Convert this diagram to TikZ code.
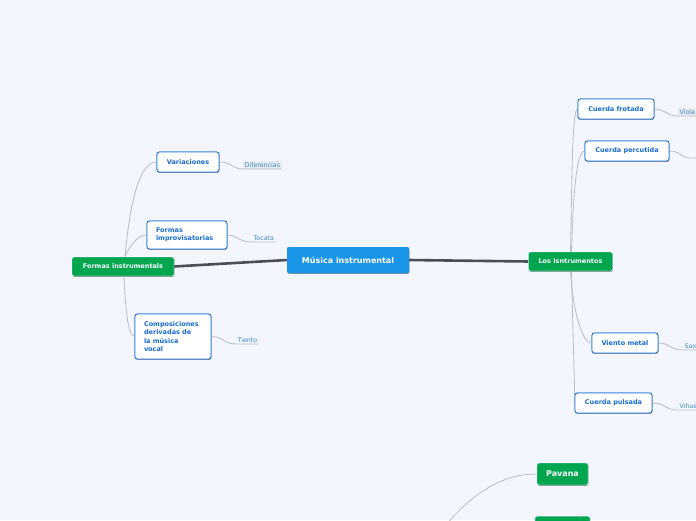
\documentclass[tikz,border=0pt]{standalone}
\usepackage{fontspec}
\setmainfont{DejaVu Sans}
\usetikzlibrary{shadows}
\definecolor{bgc}{RGB}{243,246,254}
\definecolor{mainblue}{RGB}{26,150,232}
\definecolor{mgreen}{RGB}{0,165,80}
\definecolor{bord}{RGB}{43,124,217}
\definecolor{btext}{RGB}{22,108,208}
\definecolor{ltext}{RGB}{60,140,205}
\definecolor{gline}{RGB}{184,188,196}
\definecolor{dline}{RGB}{74,78,87}
\definecolor{leafbg}{RGB}{232,234,238}
\tikzset{
  shad/.style={drop shadow={shadow xshift=0.4pt,shadow yshift=-0.9pt,opacity=0.22,fill=black}},
  mainbox/.style={fill=mainblue,rounded corners=2pt,text=white,font=\bfseries\fontsize{8}{9}\selectfont,inner sep=0pt,shad},
  greenbox/.style={fill=mgreen,draw=white,line width=0.4pt,rounded corners=2pt,text=white,font=\bfseries\fontsize{6.5}{8}\selectfont,inner sep=0pt,shad},
  bigreen/.style={greenbox,font=\bfseries\fontsize{8}{9}\selectfont},
  childbox/.style={fill=white,draw=bord,line width=0.9pt,rounded corners=2.5pt,text=btext,font=\bfseries\fontsize{6.5}{8.5}\selectfont,inner sep=0pt,shad},
  leaf/.style={text=ltext,font=\fontsize{6.3}{7.5}\selectfont,inner sep=1.5pt,anchor=south west},
  leafshade/.style={leaf,fill=leafbg},
  gconn/.style={draw=gline,line width=0.8pt},
  uline/.style={draw=gline!70,line width=0.7pt},
  dconn/.style={draw=dline,line width=2.6pt},
}
\begin{document}
\begin{tikzpicture}[x=1pt,y=-1pt]
\fill[bgc] (0,0) rectangle (696,520);
\useasboundingbox (0,0) rectangle (696,520);

% main connectors
\node[mainbox,minimum width=122pt,minimum height=26pt] (mi) at (348,260) {Música instrumental};
\node[greenbox,minimum width=102pt,minimum height=19pt] (fi) at (123,266.5) {Formas instrumentals};
\node[greenbox,minimum width=84pt,minimum height=19pt] (li) at (570.5,261.5) {Los Isntrumentos};

\begin{scope}[on background layer/.try]
\end{scope}

% left children
\node[childbox,minimum width=62pt,minimum height=20pt] (va) at (188,162) {Variaciones};
\node[childbox,minimum width=80pt,minimum height=28pt,align=left,text width=62pt] (fimp) at (187,235) {Formas\\improvisatorias};
\node[childbox,minimum width=76pt,minimum height=45pt,align=left,text width=58pt] (comp) at (173,336.5) {Composiciones\\derivadas de\\la música\\vocal};

% right children
\node[childbox,minimum width=76pt,minimum height=20pt] (cf) at (616,109) {Cuerda frotada};
\node[childbox,minimum width=84pt,minimum height=20pt] (cp) at (627,151) {Cuerda percutida};
\node[childbox,minimum width=66pt,minimum height=20pt] (vm) at (625,343) {Viento metal};
\node[childbox,minimum width=77pt,minimum height=20pt] (cpu) at (613.5,403) {Cuerda pulsada};

% bottom green
\node[bigreen,minimum width=51pt,minimum height=22pt] (pav) at (562.5,474) {Pavana};
\node[bigreen,minimum width=55pt,minimum height=22pt,anchor=north] (bot) at (562.5,516) {\phantom{X}};
\coordinate (pavend) at (440,532);

% leaves
\node[leafshade] (dif) at (243,169) {Diferencias};
\node[leaf] (toc) at (252,242) {Tocata};
\node[leaf] (tie) at (236,344) {Tiento};
\node[leafshade] (vio) at (678,116) {Viola};
\coordinate (cpleaf) at (690,158);
\coordinate (cpleafend) at (700,158);
\node[leaf] (sax) at (683,350) {Saxofón};
\node[leaf] (vih) at (678,410) {Vihuela};

% thick connectors
\begin{scope}[on background layer/.try]
\end{scope}
\draw[dconn] (mi.west) -- (fi.east);
\draw[dconn] (mi.east) -- (li.west);

% gray connectors left
\draw[gconn] (fi.north) ++(2,0) coordinate (fs1) .. controls (130,200) and (140,162) .. (va.west);
\draw[gconn] (fi.north) ++(2,0) .. controls (130,245) and (138,235) .. (fimp.west);
\draw[gconn] (fi.south) ++(1,0) .. controls (125,300) and (127,336) .. (comp.west);

% gray connectors right
\draw[gconn] (li.north) .. controls (572,180) and (572,109) .. (cf.west);
\draw[gconn] (li.north) ++(1,0) .. controls (573,200) and (576,151) .. (cp.west);
\draw[gconn] (li.south) .. controls (572,300) and (580,343) .. (vm.west);
\draw[gconn] (li.south) ++(1,0) .. controls (573,340) and (575,390) .. (cpu.west);

% pavana curve
\draw[gconn] (pav.west) .. controls (500,474) and (470,495) .. (pavend);

% leaf connectors and underlines
\draw[gconn] (va.east) .. controls (232,162) and (232,169) .. (dif.south west) -- (dif.south east);
\draw[gconn] (fimp.east) .. controls (238,235) and (238,242) .. (toc.south west) -- (toc.south east);
\draw[gconn] (comp.east) .. controls (224,337) and (224,344) .. (tie.south west) -- (tie.south east);
\draw[gconn] (cf.east) .. controls (666,109) and (666,116) .. (vio.south west) -- (vio.south east);
\draw[gconn] (cp.east) .. controls (681,151) and (681,158) .. (cpleaf) -- (cpleafend);
\draw[gconn] (vm.east) .. controls (670,343) and (670,350) .. (sax.south west) -- (sax.south east);
\draw[gconn] (cpu.east) .. controls (665,403) and (665,410) .. (vih.south west) -- (vih.south east);

% redraw nodes on top
\node[mainbox,minimum width=122pt,minimum height=26pt] at (348,260) {Música instrumental};
\node[greenbox,minimum width=102pt,minimum height=19pt] at (123,266.5) {Formas instrumentals};
\node[greenbox,minimum width=84pt,minimum height=19pt] at (570.5,261.5) {Los Isntrumentos};
\node[childbox,minimum width=62pt,minimum height=20pt] at (188,162) {Variaciones};
\node[childbox,minimum width=80pt,minimum height=28pt,align=left,text width=62pt] at (187,235) {Formas\\improvisatorias};
\node[childbox,minimum width=76pt,minimum height=45pt,align=left,text width=58pt] at (173,336.5) {Composiciones\\derivadas de\\la música\\vocal};
\node[childbox,minimum width=76pt,minimum height=20pt] at (616,109) {Cuerda frotada};
\node[childbox,minimum width=84pt,minimum height=20pt] at (627,151) {Cuerda percutida};
\node[childbox,minimum width=66pt,minimum height=20pt] at (625,343) {Viento metal};
\node[childbox,minimum width=77pt,minimum height=20pt] at (613.5,403) {Cuerda pulsada};
\node[bigreen,minimum width=51pt,minimum height=22pt] at (562.5,474) {Pavana};
\end{tikzpicture}
\end{document}
